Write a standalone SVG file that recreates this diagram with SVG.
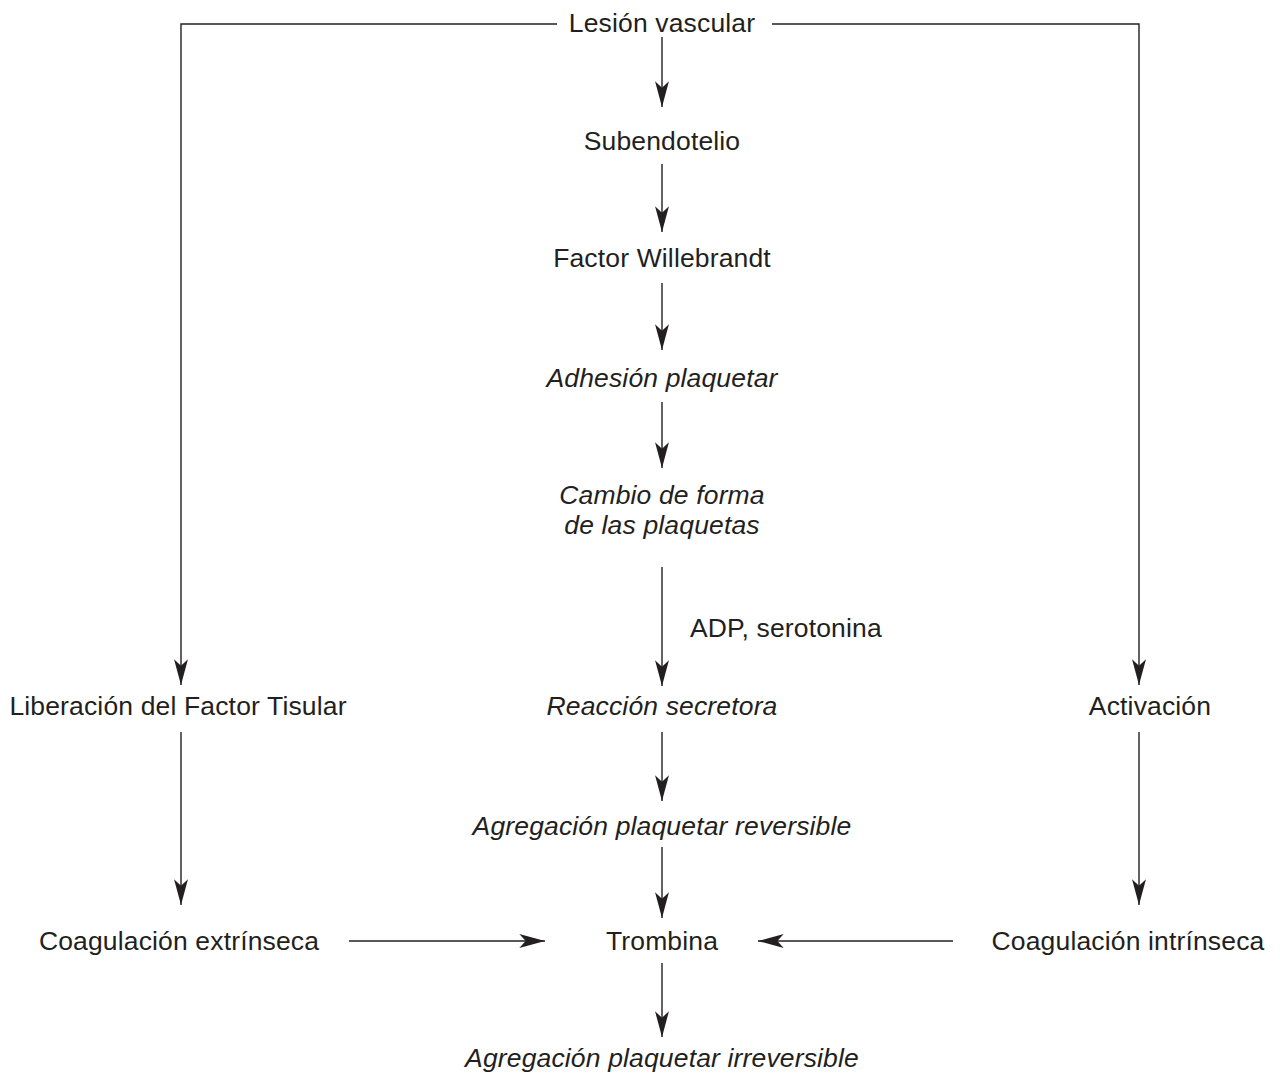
<svg xmlns="http://www.w3.org/2000/svg" width="1280" height="1089" viewBox="0 0 1280 1089">
<style>
text{font-family:"Liberation Sans",Arial,sans-serif;font-size:26.5px;letter-spacing:0.15px;fill:#231f20}
.c{text-anchor:middle}
.i{font-style:italic}
.ln{stroke:#231f20;stroke-width:1.4;fill:none}
</style>
<defs>
<marker id="ah" markerUnits="userSpaceOnUse" markerWidth="30" markerHeight="20" viewBox="-26 -8 28 16" refX="0" refY="0" orient="auto">
<path d="M0,0 L-24,-6.5 L-18,0 L-24,6.5 Z" fill="#231f20"/>
</marker>
</defs>
<rect width="1280" height="1089" fill="#fff"/>
<g id="connectors">
<path class="ln" d="M557,24 H181 V685" marker-end="url(#ah)"/>
<path class="ln" d="M772,24 H1139 V685" marker-end="url(#ah)"/>
<path class="ln" d="M662,37 V107" marker-end="url(#ah)"/>
<path class="ln" d="M662,164 V232" marker-end="url(#ah)"/>
<path class="ln" d="M662,283 V350" marker-end="url(#ah)"/>
<path class="ln" d="M662,402 V468" marker-end="url(#ah)"/>
<path class="ln" d="M662,567 V686" marker-end="url(#ah)"/>
<path class="ln" d="M662,732 V801" marker-end="url(#ah)"/>
<path class="ln" d="M662,847 V918" marker-end="url(#ah)"/>
<path class="ln" d="M662,963 V1037" marker-end="url(#ah)"/>
<path class="ln" d="M181,732 V905" marker-end="url(#ah)"/>
<path class="ln" d="M1139,732 V905" marker-end="url(#ah)"/>
<path class="ln" d="M349,941 H545" marker-end="url(#ah)"/>
<path class="ln" d="M953,941 H758" marker-end="url(#ah)"/>
</g>
<g id="lesion"><text class="c" x="662" y="32">Lesión vascular</text></g>
<g id="subendotelio"><text class="c" x="662" y="150">Subendotelio</text></g>
<g id="willebrandt"><text class="c" x="662" y="267">Factor Willebrandt</text></g>
<g id="adhesion"><text class="c i" x="662" y="387">Adhesión plaquetar</text></g>
<g id="cambio"><text class="c i" x="662" y="504">Cambio de forma</text><text class="c i" x="662" y="534">de las plaquetas</text></g>
<g id="adp"><text x="690" y="637">ADP, serotonina</text></g>
<g id="liberacion"><text class="c" x="178" y="715">Liberación del Factor Tisular</text></g>
<g id="reaccion"><text class="c i" x="662" y="715">Reacción secretora</text></g>
<g id="activacion"><text class="c" x="1150" y="715">Activación</text></g>
<g id="reversible"><text class="c i" x="662" y="835">Agregación plaquetar reversible</text></g>
<g id="extrinseca"><text class="c" x="179" y="950">Coagulación extrínseca</text></g>
<g id="trombina"><text class="c" x="662" y="950">Trombina</text></g>
<g id="intrinseca"><text class="c" x="1128" y="950">Coagulación intrínseca</text></g>
<g id="irreversible"><text class="c i" x="662" y="1067">Agregación plaquetar irreversible</text></g>
</svg>
